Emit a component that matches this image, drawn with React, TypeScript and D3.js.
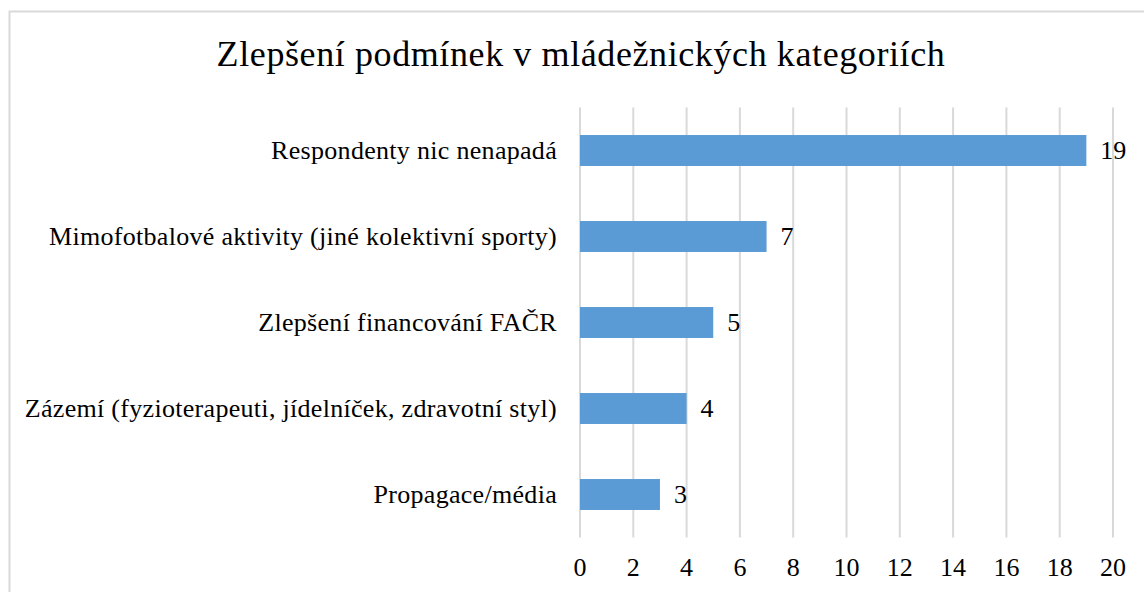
import React from "react";
import * as d3 from "d3";

const title = "Zlepšení podmínek v mládežnických kategoriích";
const categories = [
  "Respondenty nic nenapadá",
  "Mimofotbalové aktivity (jiné kolektivní sporty)",
  "Zlepšení financování FAČR",
  "Zázemí (fyzioterapeuti, jídelníček, zdravotní styl)",
  "Propagace/média",
];
const values = [19, 7, 5, 4, 3];
const xTicks = [0, 2, 4, 6, 8, 10, 12, 14, 16, 18, 20];

const W = 1144;
const H = 592;
const plot = { left: 580, right: 1113, top: 107.5, bottom: 537.5 };
const font = "Liberation Serif, DejaVu Serif, serif";

export default function App() {
  const x = d3.scaleLinear().domain([0, 20]).range([plot.left, plot.right]);
  const y = d3
    .scaleBand<string>()
    .domain(categories)
    .range([plot.top, plot.bottom])
    .paddingInner(0.64)
    .paddingOuter(0.32);

  const txt = { fontFamily: font, fill: "#000" } as React.CSSProperties;

  return (
    <div style={{ position: "absolute", left: 0, top: 0 }}>
      <svg width={W} height={H} style={{ display: "block" }}>
        <rect x={0} y={0} width={W} height={H} fill="#ffffff" />
        <rect x={9.5} y={11.5} width={W + 20} height={H + 20} fill="none" stroke="#d9d9d9" strokeWidth={2} />
        <text x={W / 2 + 9} y={66} textAnchor="middle" style={{ ...txt, fontSize: 36, letterSpacing: 0.6 }}>
          {title}
        </text>
        {xTicks.map((t) => (
          <line key={"g" + t} x1={x(t)} x2={x(t)} y1={plot.top} y2={plot.bottom} stroke="#d9d9d9" strokeWidth={2} />
        ))}
        {categories.map((c, i) => (
          <rect
            key={"b" + c}
            x={x(0)}
            y={y(c)!}
            width={x(values[i]) - x(0)}
            height={y.bandwidth()}
            fill="#5b9bd5"
          />
        ))}
        {categories.map((c, i) => (
          <text
            key={"v" + c}
            x={x(values[i]) + 14}
            y={y(c)! + y.bandwidth() / 2}
            dominantBaseline="central"
            style={{ ...txt, fontSize: 26 }}
          >
            {values[i]}
          </text>
        ))}
        {categories.map((c) => (
          <text
            key={"l" + c}
            x={557}
            y={y(c)! + y.bandwidth() / 2}
            dominantBaseline="central"
            textAnchor="end"
            style={{ ...txt, fontSize: 26, letterSpacing: 0.3 }}
          >
            {c}
          </text>
        ))}
        {xTicks.map((t) => (
          <text
            key={"t" + t}
            x={x(t)}
            y={567}
            dominantBaseline="central"
            textAnchor="middle"
            style={{ ...txt, fontSize: 26 }}
          >
            {t}
          </text>
        ))}
      </svg>
    </div>
  );
}
